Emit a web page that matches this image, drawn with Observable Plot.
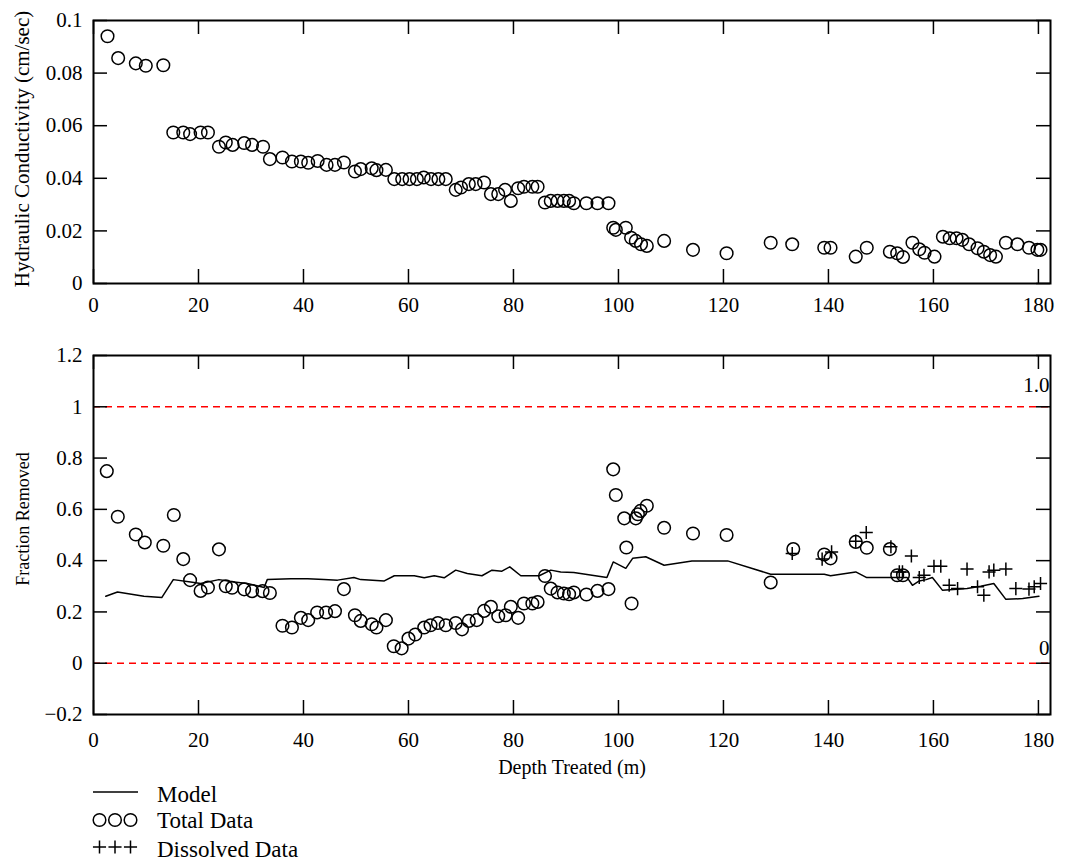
<!DOCTYPE html>
<html><head><meta charset="utf-8">
<script src="https://cdn.jsdelivr.net/npm/d3@7"></script>
<script src="https://cdn.jsdelivr.net/npm/@observablehq/plot@0.6"></script>
<style>
body{margin:0;background:#fff;}
#wrap{width:1065px;height:867px;background:#fff;font-family:"Liberation Serif","Times New Roman",serif;}
#wrap svg{display:block;}
</style></head><body><div id="wrap"></div>
<script>
// ---- data ----
const kDepth = [2.67,4.7,8.06,9.96,13.3,15.2,17.1,18.4,20.4,21.8,23.9,25.2,26.5,28.7,30.2,32.3,33.6,36.0,37.8,39.5,40.9,42.7,44.4,46.0,47.7,49.8,50.9,53.0,53.9,55.7,57.3,58.8,60.2,61.6,62.9,64.3,65.7,67.1,69.0,70.0,71.5,72.8,74.4,75.7,77.1,78.4,79.5,80.9,82.0,83.6,84.6,86.0,87.1,88.4,89.6,90.6,91.5,93.9,96.0,98.1,99.0,99.5,101.4,102.4,103.3,104.3,105.4,108.7,114.2,120.6,129.0,133.1,139.2,140.4,145.2,147.3,151.7,153.1,154.2,156.0,157.3,158.3,160.2,161.8,163.1,164.4,165.5,166.8,168.4,169.6,170.8,171.9,173.8,176.0,178.2,179.8,180.4];
const kValue = [0.0940,0.0857,0.0837,0.0828,0.0830,0.0574,0.0574,0.0568,0.0574,0.0574,0.0520,0.0536,0.0527,0.0534,0.0527,0.0520,0.0473,0.0479,0.0464,0.0464,0.0459,0.0466,0.0451,0.0451,0.0460,0.0426,0.0435,0.0438,0.0431,0.0432,0.0397,0.0397,0.0397,0.0397,0.0403,0.0397,0.0397,0.0397,0.0356,0.0365,0.0378,0.0378,0.0384,0.0340,0.0340,0.0356,0.0314,0.0362,0.0368,0.0368,0.0368,0.0308,0.0314,0.0314,0.0314,0.0314,0.0305,0.0305,0.0305,0.0305,0.0212,0.0204,0.0212,0.0174,0.0162,0.0149,0.0143,0.0162,0.0128,0.0115,0.0155,0.0149,0.0136,0.0136,0.0102,0.0136,0.0121,0.0115,0.0101,0.0155,0.0130,0.0117,0.0102,0.0178,0.0172,0.0172,0.0166,0.0149,0.0134,0.0121,0.0108,0.0102,0.0155,0.0149,0.0136,0.0128,0.0128];

const totalDepth = [2.53,4.63,8.06,9.77,13.3,15.3,17.1,18.4,20.4,21.8,23.9,25.2,26.4,28.7,30.2,32.2,33.6,36.0,37.8,39.5,40.9,42.6,44.3,46.0,47.7,49.8,50.9,53.0,53.9,55.7,57.2,58.7,60.0,61.3,63.0,64.2,65.6,67.1,69.0,70.2,71.5,73.0,74.4,75.7,77.1,78.5,79.5,80.9,82.0,83.6,84.6,86.0,87.1,88.4,89.6,90.6,91.5,93.9,96.0,98.1,99.0,99.5,101.1,101.5,102.5,103.3,103.7,104.2,105.4,108.7,114.2,120.6,129.0,133.3,139.2,140.4,145.2,147.3,151.7,153.1,154.2];
const totalFrac = [0.749,0.571,0.502,0.471,0.458,0.578,0.406,0.324,0.282,0.295,0.444,0.300,0.294,0.288,0.281,0.281,0.274,0.146,0.139,0.177,0.168,0.198,0.198,0.203,0.289,0.187,0.165,0.152,0.139,0.168,0.066,0.058,0.096,0.112,0.139,0.148,0.157,0.148,0.157,0.132,0.165,0.168,0.204,0.220,0.183,0.187,0.220,0.177,0.233,0.233,0.239,0.340,0.291,0.276,0.272,0.269,0.276,0.268,0.282,0.289,0.756,0.656,0.565,0.451,0.233,0.565,0.581,0.594,0.614,0.528,0.506,0.500,0.315,0.445,0.424,0.409,0.473,0.450,0.445,0.343,0.343];

const dissolvedDepth = [133.1,138.8,140.6,145.2,147.2,151.9,153.5,154.1,155.8,157.3,158.2,160.1,161.4,163.0,164.6,166.4,168.4,169.6,170.6,171.5,173.8,175.7,178.2,179.2,180.4];
const dissolvedFrac = [0.428,0.406,0.434,0.476,0.510,0.454,0.356,0.356,0.418,0.334,0.343,0.378,0.378,0.304,0.291,0.367,0.298,0.265,0.356,0.363,0.367,0.291,0.289,0.298,0.311];

const modelDepth = [2.34,4.57,9.6,13.0,15.2,18.5,20.4,23.9,26.8,29.3,32.5,33.1,37.6,40.8,43.9,46.5,49.6,50.9,55.4,57.3,61.1,63.0,64.9,66.8,69.0,71.2,74.0,75.9,77.8,79.3,81.4,84.9,87.1,89.0,91.5,97.8,99.0,101.4,102.7,105.2,108.7,114.0,120.8,129.0,139.2,140.4,145.2,147.3,155.0,156.0,157.3,158.6,159.8,161.7,164.5,166.4,169.0,171.5,173.8,177.0,180.1];
const modelFrac = [0.261,0.278,0.261,0.256,0.326,0.317,0.311,0.326,0.317,0.311,0.295,0.326,0.329,0.329,0.326,0.324,0.334,0.326,0.321,0.341,0.341,0.333,0.341,0.333,0.363,0.350,0.341,0.363,0.359,0.376,0.341,0.341,0.363,0.356,0.354,0.334,0.395,0.370,0.409,0.415,0.382,0.399,0.399,0.347,0.347,0.341,0.356,0.334,0.334,0.304,0.321,0.326,0.334,0.285,0.288,0.291,0.300,0.311,0.249,0.252,0.261];

const xTicks = [0,20,40,60,80,100,120,140,160,180];
const xTickLabels = ["0","20","40","60","80","100","120","140","160","180"];
const topYTicks = [0,0.02,0.04,0.06,0.08,0.1];
const topYTickLabels = ["0","0.02","0.04","0.06","0.08","0.1"];
const botYTicks = [-0.2,0,0.2,0.4,0.6,0.8,1,1.2];
const botYTickLabels = ["\u22120.2","0","0.2","0.4","0.6","0.8","1","1.2"];
const refValues = [1.0, 0];
const refLabels = ["1.0", "0"];
const topYLabel = "Hydraulic Conductivity (cm/sec)";
const botYLabel = "Fraction Removed";
const xLabel = "Depth Treated (m)";
const legendLabels = ["Model","Total Data","Dissolved Data"];

// ---- build ----
const kData = kDepth.map((d,i)=>({x:d,y:kValue[i]}));
const totalData = totalDepth.map((d,i)=>({x:d,y:totalFrac[i]}));
const dissData = dissolvedDepth.map((d,i)=>({x:d,y:dissolvedFrac[i]}));
const modelData = modelDepth.map((d,i)=>({x:d,y:modelFrac[i]}));
const fmt = (ticks, labels) => d => labels[ticks.findIndex(t => Math.abs(t - d) < 1e-9)];

const W = 1065, ML = 93, MR = 15, TL = 14;
const innerW = W - ML - MR;
const FONT = '"Liberation Serif","Times New Roman",serif';

function tickMarks(xt, yt, innerH) {
  const s = {stroke:"black", strokeWidth:1.5};
  return [
    Plot.ruleX(xt, {x:d=>d, insetTop: innerH - TL, ...s}),
    Plot.ruleX(xt, {x:d=>d, insetBottom: innerH - TL, ...s}),
    Plot.ruleY(yt, {y:d=>d, insetRight: innerW - TL, ...s}),
    Plot.ruleY(yt, {y:d=>d, insetLeft: innerW - TL, ...s})
  ];
}

// top panel
const H1 = 320, MT1 = 20, MB1 = 37;
const topChart = Plot.plot({
  width: W, height: H1, marginLeft: ML, marginRight: MR, marginTop: MT1, marginBottom: MB1,
  x: {domain:[0,182.3], label:null},
  y: {domain:[0,0.1], label:null},
  style: {fontFamily: FONT, fontSize: "21px", color:"black", background:"white"},
  marks: [
    Plot.axisX(xTicks, {tickSize:0, tickPadding:14, tickFormat: fmt(xTicks,xTickLabels), label:null}),
    Plot.axisY(topYTicks, {tickSize:0, tickPadding:11, tickFormat: fmt(topYTicks,topYTickLabels), label:null}),
    ...tickMarks(xTicks, topYTicks, H1-MT1-MB1),
    Plot.frame({stroke:"black", strokeWidth:2}),
    Plot.dot(kData, {x:"x", y:"y", r:6.3, stroke:"black", strokeWidth:1.5, fill:"none"}),
    Plot.text([topYLabel], {text:d=>d, frameAnchor:"left", textAnchor:"middle", lineAnchor:"middle", rotate:-90, dx:-71, dy:-3, fontSize:21})
  ]
});

// bottom panel
const H2 = 460, MT2 = 35, MB2 = 66;
const botChart = Plot.plot({
  width: W, height: H2, marginLeft: ML, marginRight: MR, marginTop: MT2, marginBottom: MB2,
  x: {domain:[0,182.3], label:null},
  y: {domain:[-0.2,1.2], label:null},
  style: {fontFamily: FONT, fontSize: "21px", color:"black", background:"white"},
  marks: [
    Plot.ruleY(refValues, {y:d=>d, stroke:"#ff0000", strokeWidth:1.4, strokeDasharray:"7,5"}),
    Plot.axisX(xTicks, {tickSize:0, tickPadding:18, tickFormat: fmt(xTicks,xTickLabels), label:null}),
    Plot.axisY(botYTicks, {tickSize:0, tickPadding:11, tickFormat: fmt(botYTicks,botYTickLabels), label:null}),
    ...tickMarks(xTicks, botYTicks, H2-MT2-MB2),
    Plot.frame({stroke:"black", strokeWidth:2}),
    Plot.line(modelData, {x:"x", y:"y", stroke:"black", strokeWidth:1.5}),
    Plot.dot(totalData, {x:"x", y:"y", r:6.3, stroke:"black", strokeWidth:1.5, fill:"none"}),
    Plot.dot(dissData, {x:"x", y:"y", symbol:"plus", r:4.3, stroke:"black", strokeWidth:1.5}),
    Plot.text([refValues[0]], {y:d=>d, text:d=>refLabels[0], frameAnchor:"right", textAnchor:"end", lineAnchor:"middle", dx:-1, dy:-22, fontSize:21}),
    Plot.text([refValues[1]], {y:d=>d, text:d=>refLabels[1], frameAnchor:"right", textAnchor:"end", lineAnchor:"middle", dx:-1, dy:-15, fontSize:21}),
    Plot.text([botYLabel], {text:d=>d, frameAnchor:"left", textAnchor:"middle", lineAnchor:"middle", rotate:-90, dx:-70, dy:-16, fontSize:18}),
    Plot.text([xLabel], {text:d=>d, frameAnchor:"bottom", textAnchor:"middle", lineAnchor:"middle", dy:53, fontSize:20})
  ]
});

const wrap = document.getElementById("wrap");
wrap.appendChild(topChart);
wrap.appendChild(botChart);

// legend
const leg = d3.select(wrap).append("svg").attr("width", W).attr("height", 87)
  .style("font-family", FONT).style("font-size","23px");
const rowY = [12, 40, 67];
const baseY = [22, 48, 77];
leg.append("line").attr("x1",93).attr("x2",138).attr("y1",rowY[0]).attr("y2",rowY[0])
  .attr("stroke","black").attr("stroke-width",1.5);
[99.5,115,130.5].forEach(cx=>{
  leg.append("circle").attr("cx",cx).attr("cy",rowY[1]).attr("r",6.3)
    .attr("fill","none").attr("stroke","black").attr("stroke-width",1.5);
  leg.append("path").attr("transform",`translate(${cx},${rowY[2]})`)
    .attr("d", d3.symbol(d3.symbolPlus, 58)()).attr("fill","none")
    .attr("stroke","black").attr("stroke-width",1.5);
});
legendLabels.forEach((t,i)=>{
  leg.append("text").attr("x",157).attr("y",baseY[i]).text(t);
});
</script></body></html>
